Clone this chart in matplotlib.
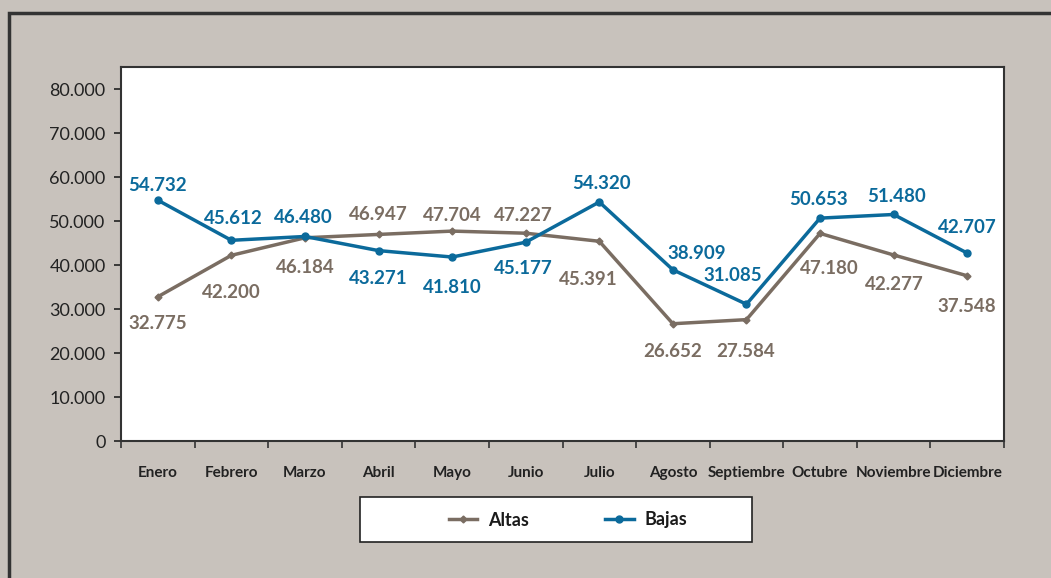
import matplotlib.pyplot as plt
from matplotlib.patches import Rectangle
from matplotlib.ticker import FuncFormatter, MultipleLocator
import numpy as np

meses = ["Enero", "Febrero", "Marzo", "Abril", "Mayo", "Junio", "Julio",
         "Agosto", "Septiembre", "Octubre", "Noviembre", "Diciembre"]
altas = [32775, 42200, 46184, 46947, 47704, 47227, 45391,
         26652, 27584, 47180, 42277, 37548]
bajas = [54732, 45612, 46480, 43271, 41810, 45177, 54320,
         38909, 31085, 50653, 51480, 42707]

# label offsets from each point, in pixels (dx, dy up)
off_altas = [(0, -27), (0, -37), (0, -30), (0, 20), (0, 16), (-2, 18),
             (-11, -38), (0, -28), (-1, -32), (9, -35), (1, -30), (0, -31)]
off_bajas = [(0, 15), (2, 22), (-2, 19), (0, -28), (0, -30), (-2, -26),
             (2, 18), (24, 16), (-14, 29), (-2, 19), (3, 18), (0, 26)]

c_altas = "#7a6d62"
c_bajas = "#0b6a9b"
bg = "#c8c2bc"

plt.rcParams['font.family'] = ['Lato', 'DejaVu Sans']

fig = plt.figure(figsize=(10.51, 5.78), dpi=100)
fig.patch.set_facecolor(bg)
fig.patches.append(Rectangle((9 / 1051, -0.1), 1.2, 1 - 13 / 578 + 0.1,
                             transform=fig.transFigure, fill=False,
                             edgecolor="#333333", linewidth=2.5))

ax = fig.add_axes([121 / 1051, 137 / 578, 883 / 1051, 374 / 578])
ax.set_facecolor("white")
x = np.arange(len(meses))

ax.plot(x, altas, color=c_altas, linewidth=2.5, marker="D", markersize=3.5,
        label="Altas")
ax.plot(x, bajas, color=c_bajas, linewidth=2.5, marker="o", markersize=5,
        label="Bajas")


def fmt(v):
    return f"{v:,.0f}".replace(",", ".")


for xi, v, (dx, dy) in zip(x, altas, off_altas):
    ax.annotate(fmt(v), (xi, v), xytext=(dx, dy), textcoords="offset pixels",
                ha="center", va="center", color=c_altas, fontsize=13.5,
                fontweight="bold")
for xi, v, (dx, dy) in zip(x, bajas, off_bajas):
    ax.annotate(fmt(v), (xi, v), xytext=(dx, dy), textcoords="offset pixels",
                ha="center", va="center", color=c_bajas, fontsize=13.5,
                fontweight="bold")

ax.set_xlim(-0.5, len(meses) - 0.5)
ax.set_ylim(0, 85000)
ax.yaxis.set_major_locator(MultipleLocator(10000))
ax.yaxis.set_major_formatter(FuncFormatter(lambda v, _: fmt(v)))
ax.set_xticks(x)
ax.set_xticklabels(meses, fontweight="bold", fontsize=11)
ax.set_xticks(np.arange(-0.5, len(meses)), minor=True)
ax.tick_params(axis="x", which="major", length=0, pad=18, colors="#222222")
ax.tick_params(axis="x", which="minor", length=5, width=1.2, color="#333333")
ax.tick_params(axis="y", length=5, width=1.2, labelsize=13, colors="#222222",
               pad=6)
for side in ["left", "bottom", "top", "right"]:
    ax.spines[side].set_color("#333333")
    ax.spines[side].set_linewidth(1.5)

# legend box
fig.patches.append(Rectangle((360 / 1051, 1 - 542 / 578), 392 / 1051, 45 / 578,
                             transform=fig.transFigure, facecolor="white",
                             edgecolor="#222222", linewidth=1.2, zorder=2))
leg = fig.legend(loc="center", bbox_to_anchor=(568 / 1051, 1 - 520 / 578),
                 ncol=2, frameon=False, prop={"weight": "bold", "size": 13},
                 handlelength=1.6, handletextpad=0.6, columnspacing=4.2)
leg.set_zorder(3)
for t in leg.get_texts():
    t.set_color("#1a1a1a")

fig.savefig("out.png", dpi=100, facecolor=bg)
